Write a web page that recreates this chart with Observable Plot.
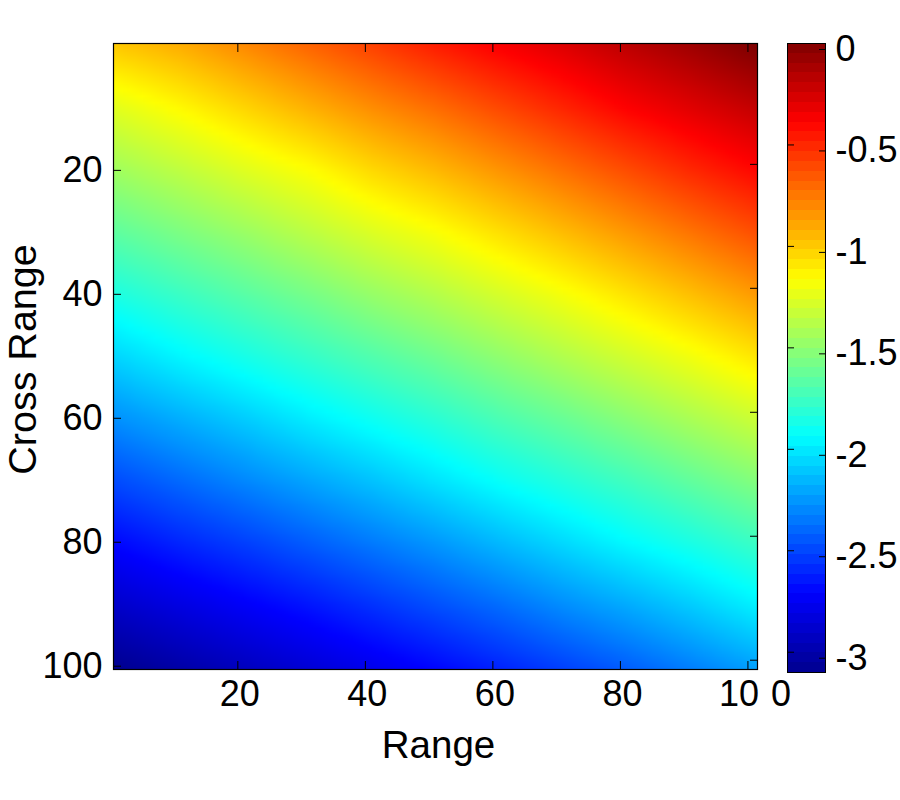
<!DOCTYPE html>
<html><head><meta charset="utf-8">
<script src="https://cdn.jsdelivr.net/npm/d3@7"></script>
<script src="https://cdn.jsdelivr.net/npm/@observablehq/plot@0.6"></script>
<style>
html,body{margin:0;padding:0;background:#fff}
#wrap{position:relative;width:900px;height:800px;font-family:"Liberation Sans",sans-serif}
#wrap figure,#wrap svg{margin:0;position:absolute;left:0;top:0;background:transparent}
</style></head><body><div id="wrap"></div>
<script>
const rangeCoords = [1,11,21,31,41,51,61,71,81,91,101];
const crossCoords = [1,11,21,31,41,51,61,71,81,91,101];
const row01  = [-1.00,-0.92,-0.81,-0.70,-0.59,-0.48,-0.38,-0.29,-0.19,-0.10, 0.00];
const row11  = [-1.25,-1.15,-1.04,-0.93,-0.82,-0.72,-0.61,-0.50,-0.39,-0.30,-0.21];
const row21  = [-1.45,-1.36,-1.26,-1.17,-1.05,-0.95,-0.84,-0.73,-0.62,-0.51,-0.41];
const row31  = [-1.65,-1.56,-1.47,-1.37,-1.27,-1.18,-1.07,-0.96,-0.85,-0.74,-0.63];
const row41  = [-1.85,-1.76,-1.67,-1.58,-1.48,-1.39,-1.29,-1.19,-1.08,-0.97,-0.86];
const row51  = [-2.06,-1.96,-1.87,-1.78,-1.69,-1.60,-1.50,-1.40,-1.30,-1.20,-1.09];
const row61  = [-2.27,-2.18,-2.09,-1.99,-1.90,-1.81,-1.71,-1.62,-1.52,-1.42,-1.32];
const row71  = [-2.48,-2.39,-2.30,-2.21,-2.12,-2.02,-1.92,-1.83,-1.74,-1.64,-1.54];
const row81  = [-2.69,-2.60,-2.52,-2.43,-2.34,-2.25,-2.15,-2.05,-1.95,-1.86,-1.76];
const row91  = [-2.89,-2.81,-2.73,-2.65,-2.56,-2.47,-2.38,-2.28,-2.19,-2.09,-1.98];
const row101 = [-3.09,-3.01,-2.93,-2.85,-2.77,-2.69,-2.60,-2.51,-2.42,-2.32,-2.22];
const rows = [row01,row11,row21,row31,row41,row51,row61,row71,row81,row91,row101];
const tickValues = [20,40,60,80,100];
const barTicks = [0,-0.5,-1,-1.5,-2,-2.5,-3];
const jetStops = [-3.1,-2.7125,-1.9375,-1.1625,-0.3875,0];
const jetColors = ["#00008f","#0000ff","#00ffff","#ffff00","#ff0000","#800000"];
const barLevels = d3.range(64);

// Bilinear lookup between the table entries.
function lookup(x,y){
  const fx=Math.min(Math.max((x-1)/10,0),10), fy=Math.min(Math.max((y-1)/10,0),10);
  const i=Math.min(Math.floor(fx),9), j=Math.min(Math.floor(fy),9), a=fx-i, b=fy-j;
  return (rows[j][i]*(1-a)+rows[j][i+1]*a)*(1-b)+(rows[j+1][i]*(1-a)+rows[j+1][i+1]*a)*b;
}
const color = {type:"linear",domain:jetStops,range:jetColors,interpolate:"rgb"};
const font = {fontSize:36,fontFamily:"Liberation Sans, sans-serif"};

const main = Plot.plot({
  width:900,height:800,marginLeft:113,marginRight:143,marginTop:43,marginBottom:131,
  style:{...font,background:"transparent",overflow:"visible"},
  x:{domain:[0.5,101.5]},
  y:{domain:[0.5,101.5],reverse:true},
  color,
  marks:[
    Plot.raster({fill:lookup,x1:0.5,x2:101.5,y1:0.5,y2:101.5,width:101,height:101,imageRendering:"auto"}),
    Plot.frame({stroke:"#000",strokeWidth:1.2}),
    Plot.axisX({ticks:tickValues,anchor:"bottom",tickSize:-8,tickPadding:19,label:"Range",labelAnchor:"center",labelArrow:"none",labelOffset:88,fill:"#000"}),
    Plot.axisX({ticks:tickValues,anchor:"top",tickSize:-8,tickFormat:()=>"",label:null}),
    Plot.axisY({ticks:tickValues,anchor:"left",tickSize:-8,tickPadding:19,dy:6,label:"Cross Range",labelAnchor:"center",labelArrow:"none",labelOffset:103,fill:"#000"}),
    Plot.axisY({ticks:tickValues,anchor:"right",tickSize:-8,tickFormat:()=>"",label:null})
  ]
});

const step = 3.1/64;
const bar = Plot.plot({
  width:900,height:800,marginLeft:787,marginRight:75,marginTop:43,marginBottom:128,
  style:{...font,background:"transparent",overflow:"visible"},
  x:{domain:[0,1],axis:null},
  y:{domain:[-3.1,0]},
  color,
  marks:[
    Plot.rect(barLevels,{x1:0,x2:1,y1:d=>-3.1+step*d,y2:d=>-3.1+step*(d+1),fill:d=>-3.1+step*(d+0.5),shapeRendering:"crispEdges"}),
    Plot.frame({stroke:"#000",strokeWidth:1}),
    Plot.axisY({ticks:barTicks,anchor:"right",tickSize:-7,tickPadding:17,dy:6,label:null,tickFormat:d=>String(d),fill:"#000"}),
    Plot.axisY({ticks:barTicks,anchor:"left",tickSize:-7,tickFormat:()=>"",label:null})
  ]
});

const wrap = document.getElementById("wrap");
wrap.append(main,bar);

const m = d3.select(main);
m.selectAll("g[aria-label='x-axis tick label'] text").each(function(){
  const t=d3.select(this);
  if (this.textContent==="100"){
    // The last digit of 100 sits apart from the first two in the reference.
    t.text(null).attr("dx",7);
    t.append("tspan").text("10");
    t.append("tspan").attr("dx",12).text("0");
  } else if (this.textContent) t.attr("dx",2);
});
m.selectAll("g[aria-label='x-axis label'] text").style("font-size","38.5px").attr("dx",3);
m.selectAll("g[aria-label='y-axis label'] text").style("font-size","39.5px").attr("dy",-3).attr("dx",-3);
</script></body></html>
